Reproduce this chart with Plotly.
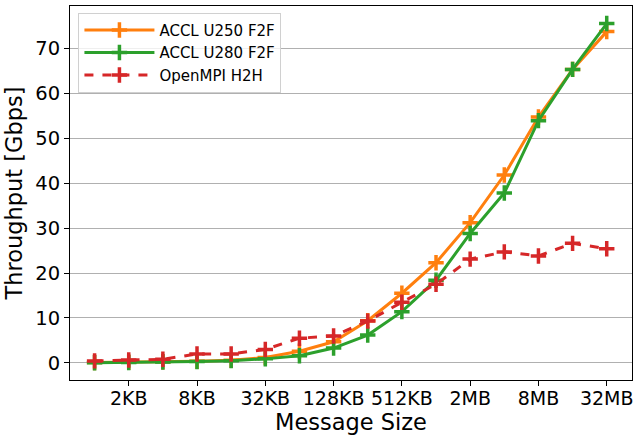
import plotly.graph_objects as go
import math

sizes = [2**k for k in range(10, 26)]  # 1KB .. 32MB
u250 = [0.1, 0.15, 0.25, 0.35, 0.6, 1.2, 2.6, 4.7, 9.4, 15.5, 22.3, 31.2, 41.8, 54.7, 65.3, 73.7]
u280 = [0.05, 0.1, 0.2, 0.3, 0.5, 0.9, 1.6, 3.3, 6.2, 11.4, 18.4, 28.8, 37.8, 53.9, 65.3, 75.5]
ompi = [0.45, 0.65, 0.8, 2.0, 2.0, 3.0, 5.5, 6.0, 9.3, 13.5, 17.5, 23.1, 24.7, 23.8, 26.6, 25.4]

tick_vals = [2**11, 2**13, 2**15, 2**17, 2**19, 2**21, 2**23, 2**25]
tick_text = ["2KB", "8KB", "32KB", "128KB", "512KB", "2MB", "8MB", "32MB"]

font = "DejaVu Sans"
fig = go.Figure()

def add(y, name, color, dash):
    fig.add_trace(go.Scatter(
        x=sizes, y=y, name=name, mode="lines+markers",
        line=dict(color=color, width=3, dash=dash),
        marker=dict(symbol="cross-thin", size=11, line=dict(color=color, width=3.5)),
    ))

add(u250, "ACCL U250 F2F", "#ff7f0e", "solid")
add(u280, "ACCL U280 F2F", "#2ca02c", "solid")
add(ompi, "OpenMPI H2H", "#d62728", "dash")

l2 = math.log10(2)
fig.update_layout(
    width=638, height=436,
    margin=dict(l=70, r=6, t=6, b=56, autoexpand=False),
    paper_bgcolor="white", plot_bgcolor="white",
    font=dict(family=font, color="black"),
    showlegend=True,
    legend=dict(x=0.015, y=0.982, xanchor="left", yanchor="top",
                bgcolor="rgba(255,255,255,0.8)", bordercolor="#d0d0d0", borderwidth=1,
                font=dict(size=15, family=font), itemwidth=70, tracegroupgap=0),
    xaxis=dict(type="log", range=[(10 - 0.72) * l2, (25 + 0.74) * l2], automargin=False,
               tickvals=tick_vals, ticktext=tick_text, tickfont=dict(size=19),
               ticklabelstandoff=-4,
               showgrid=False, showline=True, linecolor="black", linewidth=1, mirror=True,
               ticks="outside", ticklen=5, tickcolor="black",
               title=dict(text="Message Size", font=dict(size=22.5), standoff=2)),
    yaxis=dict(range=[-3.8, 79.4], tickvals=[0, 10, 20, 30, 40, 50, 60, 70], automargin=False,
               tickfont=dict(size=19.5), showgrid=True, gridcolor="#b0b0b0", gridwidth=1,
               zeroline=False,
               showline=True, linecolor="black", linewidth=1, mirror=True,
               ticks="outside", ticklen=5, tickcolor="black",
               title=dict(text="Throughput [Gbps]", font=dict(size=22.5), standoff=6)),
)

fig.write_html("out.html")
